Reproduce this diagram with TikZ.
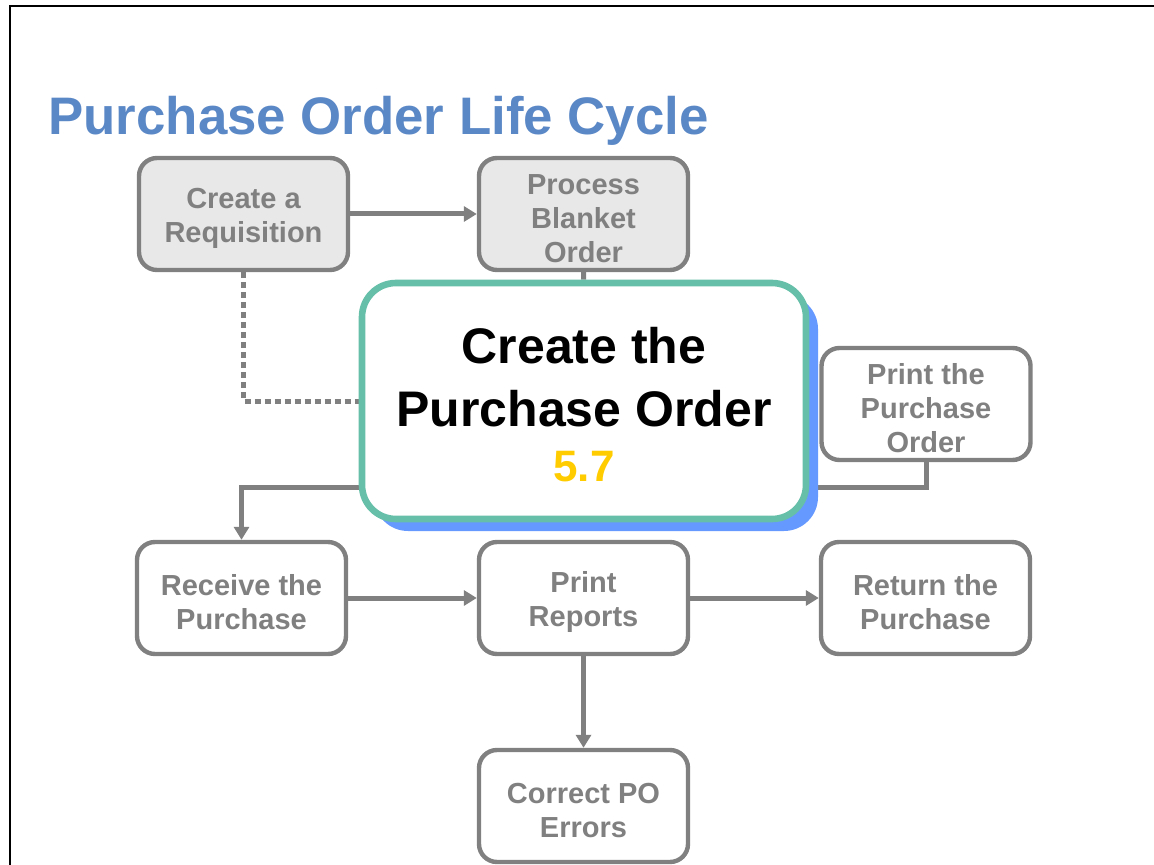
\documentclass[tikz,border=0pt]{standalone}
\usepackage{fontspec}
\setmainfont{Liberation Sans}
\usetikzlibrary{arrows.meta,shadows,backgrounds}
\definecolor{titleblue}{HTML}{5A87C6}
\definecolor{stepgray}{HTML}{808080}
\definecolor{stepfill}{HTML}{E8E8E8}
\definecolor{poteal}{HTML}{66BFA8}
\definecolor{poblue}{HTML}{6699FF}
\definecolor{poyellow}{HTML}{FFCC00}
\newcommand\boxtop{\rule{0pt}{14.5pt}}
\begin{document}
\begin{tikzpicture}[x=0.5pt,y=-0.5pt,
    >={Triangle[length=6.5pt,width=7.5pt]},
    stepbox/.style={draw=stepgray,line width=2.2pt,rounded corners=9pt,fill=white,
      minimum width=104.5pt,minimum height=56pt,inner sep=0pt,align=center,
      text=stepgray,font=\fontsize{14.5}{17}\selectfont\bfseries},
    greybox/.style={stepbox,fill=stepfill},
    link/.style={stepgray,line width=2.5pt},
    dotlink/.style={link,dash pattern=on 3pt off 2pt}]
  \useasboundingbox (0,0) rectangle (1154,865);
  \draw[line width=1pt] (10,865) -- (10,6.5) -- (1154,6.5);
  \node[anchor=base west,inner sep=0pt,text=titleblue,
    font=\fontsize{26.4}{31}\selectfont\bfseries] (title) at (48,135) {Purchase Order Life Cycle};
  \node[greybox] (req) at (243.5,214) {\boxtop Create a\\Requisition};
  \node[greybox] (blanket) at (583.5,214) {\boxtop Process\\Blanket\\Order};
  \node[stepbox] (printpo) at (926,404) {\boxtop Print the\\Purchase\\Order};
  \node[stepbox] (receive) at (241.5,598) {\boxtop Receive the\\Purchase};
  \node[stepbox] (reports) at (583.5,598) {\boxtop Print\\Reports};
  \node[stepbox] (return) at (925.5,598) {\boxtop Return the\\Purchase};
  \node[stepbox] (correct) at (583.5,806) {\boxtop Correct PO\\Errors};
  \node[draw=poteal,line width=3.3pt,fill=white,rounded corners=17pt,
    minimum width=222pt,minimum height=118pt,align=center,
    drop shadow={shadow xshift=6pt,shadow yshift=-6pt,fill=poblue,opacity=1},
    font=\fontsize{25}{31.5}\selectfont\bfseries] (po) at (584,401)
    {\rule{0pt}{22pt}Create the\\Purchase Order\\[-4pt]{\color{poyellow}\fontsize{22}{27}\selectfont 5.7}};
  \begin{scope}[on background layer]
    \draw[link,->] (req) -- (blanket);
    \draw[link] (blanket) -- (po);
    \draw[dotlink] (req) |- (po);
    \draw[link,->] (po.west) ++(0,86) -| (receive);
    \draw[link] (po.east) ++(0,86) -| (printpo);
    \draw[link,->] (receive) -- (reports);
    \draw[link,->] (reports) -- (return);
    \draw[link,->] (reports) -- (correct);
  \end{scope}
\end{tikzpicture}
\end{document}
